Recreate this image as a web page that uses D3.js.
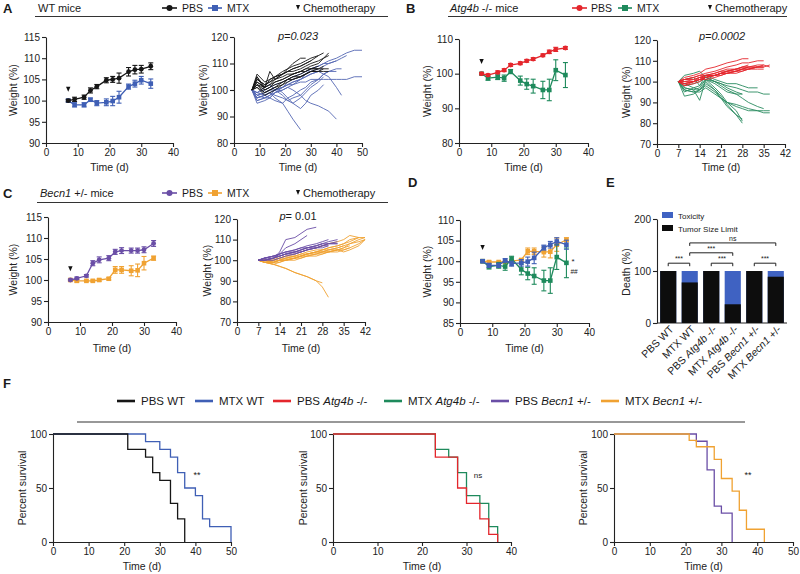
<!DOCTYPE html>
<meta charset="utf-8">
<style>
body { margin: 0; background: #fff; }
svg { font-family: "Liberation Sans", Arial, Helvetica, sans-serif; }
.axis text { font-size: 10px; fill: #222; font-family: "Liberation Sans", Arial, sans-serif; }
.axis path, .axis line { stroke: #222; stroke-width: 1.1px; }
.lbl { font-size: 10.5px; fill: #222; }
</style>
<svg width="800" height="574"></svg>
<script src="https://d3js.org/d3.v7.min.js"></script>
<script>

var svg = d3.select("svg");

var cBlack = "#161616", cBlue = "#3f5fb5", cRed = "#e4262c", cGreen = "#1e8a5c",
    cPurple = "#6a4ea6", cOrange = "#f0a232";

// ---- group means (weight %) ----
var days = [7, 9, 12, 14, 16, 19, 21, 23, 26, 28, 30, 33];
var wtPbs    = [100, 100.3, 100.8, 102.4, 103.3, 104.8, 105.0, 105.3, 106.8, 107.3, 107.4, 108.1];
var wtPbsErr = [0.3, 0.5, 0.5, 0.6, 0.5, 0.6, 0.7, 1.2, 1.0, 1.0, 0.9, 0.8];
var wtMtx    = [100, 99.0, 99.0, 100.2, 99.4, 99.6, 99.9, 100.8, 103.3, 104.0, 104.8, 104.0];
var wtMtxErr = [0.3, 0.5, 0.5, 0.4, 0.6, 0.8, 1.1, 1.4, 0.6, 0.8, 0.9, 1.1];
var atgPbs    = [100, 99.6, 100.4, 101.0, 102.5, 103.0, 103.7, 104.2, 105.3, 106.3, 107.0, 107.4];
var atgPbsErr = [0.3, 0.3, 0.4, 0.4, 0.4, 0.4, 0.4, 0.4, 0.4, 0.5, 0.6, 0.4];
var atgMtx    = [100, 98.7, 99.0, 98.7, 100.6, 98.0, 97.0, 96.4, 95.3, 95.3, 101.0, 99.6];
var atgMtxErr = [0.3, 0.6, 0.7, 0.9, 0.6, 1.3, 1.5, 2.0, 2.5, 3.1, 3.0, 3.6];
var becPbs    = [100, 100.4, 101.0, 104.0, 104.8, 105.2, 106.7, 107.0, 107.0, 107.0, 107.2, 108.7];
var becPbsErr = [0.2, 0.3, 0.3, 0.6, 0.7, 0.6, 0.6, 0.7, 0.6, 0.6, 0.7, 0.7];
var becMtx    = [100, 99.8, 99.8, 99.8, 100.0, 100.3, 102.4, 102.4, 102.2, 102.3, 104.0, 105.2];
var becMtxErr = [0.2, 0.3, 0.2, 0.2, 0.3, 0.3, 0.8, 0.8, 1.2, 1.5, 1.6, 0.5];

var chemoDay = 7;

// ---- individual mice ----
var daysA = [7, 9, 12, 14, 16, 19, 21, 23, 26, 28, 30, 33, 35, 37, 40, 42, 44, 47, 50];
var wtPbsMice = [
  [100, 105, 101, 107, 104, 106, 108, 110, 112, 112],
  [100, 104, 102, 103, 105, 107, 108, 109, 110, 111, 112, 113, 114],
  [100, 103, 101, 102, 104, 106, 107, 108, 109, 110, 111, 113],
  [100, 102, 100, 101, 103, 104, 105, 106, 107, 108, 109, 110, 112, 114],
  [100, 103, 101, 102, 103, 104, 105, 106, 107, 107, 108, 108, 109],
  [100, 105, 100, 101, 102, 103, 104, 105, 106, 107, 108, 108],
  [100, 102, 99, 100, 101, 103, 104, 104, 105, 106, 107, 108, 108, 108],
  [100, 101, 98, 99, 100, 102, 103, 104, 105, 106, 107, 107, 108],
  [100, 104, 102, 103, 104, 105, 106, 106, 107, 108, 108, 109],
  [100, 102, 101, 104, 105, 106, 107, 108, 109, 110, 111],
  [100, 106, 103, 104, 105, 106, 107, 107, 108, 109, 110, 111, 112, 113],
  [100, 101, 99, 100, 101, 102, 104, 105, 105, 106, 107, 107, 107, 107]
];
var wtMtxMice = [
  [100, 97, 98, 99, 97, 95, 92, 89, 85],
  [100, 96, 97, 98, 99, 100, 101, 100, 98, 96, 95, 94, 93, 92, 89],
  [100, 99, 100, 101, 102, 103, 104, 105, 106, 107, 108, 109, 110, 111, 112, 113, 114, 115, 115],
  [100, 98, 99, 100, 100, 101, 102, 102, 103, 103, 104, 104, 104, 104, 104, 104, 104, 105, 105],
  [100, 97, 98, 97, 99, 100, 101, 102, 104, 105, 106, 107, 106, 105, 101, 98],
  [100, 95, 96, 97, 99, 101, 103, 104, 105, 106, 108, 109, 110, 110, 111, 112, 113],
  [100, 98, 97, 97, 96, 95, 97, 98, 100, 101, 103, 104, 106, 107, 107],
  [100, 99, 101, 102, 100, 98, 96, 95, 97, 99, 101, 103, 105],
  [100, 97, 98, 99, 98, 97, 96, 97, 98, 100, 102, 104, 106, 107, 108, 108],
  [100, 96, 97, 98, 100, 101, 102, 103, 104, 106, 107, 108],
  [100, 98, 99, 100, 101, 99, 97, 95, 93, 95, 98, 100, 102],
  [100, 99, 98, 99, 100, 101, 102, 103, 104, 105, 106, 107, 109, 110, 111]
];

var daysB = [7, 9, 12, 14, 16, 19, 21, 23, 26, 28, 30, 33, 35, 37];
var atgPbsMice = [
  [100, 102, 103, 104, 106, 107, 108, 109, 110, 111, 111],
  [100, 101, 102, 103, 104, 105, 106, 107, 108, 109, 109, 110, 110],
  [100, 99, 100, 101, 102, 103, 104, 104, 105, 106, 106, 107, 107, 108],
  [100, 100, 101, 102, 103, 103, 104, 105, 106, 106, 107, 107, 107],
  [100, 101, 101, 102, 102, 103, 104, 105, 105, 106, 107, 107, 108],
  [100, 98, 99, 100, 102, 103, 103, 104, 105, 106, 106, 107],
  [100, 99, 100, 101, 103, 104, 105, 105, 106, 107, 107, 108, 108, 107],
  [100, 100, 100, 101, 102, 103, 104, 104, 105, 105, 106, 107, 107],
  [100, 101, 102, 103, 103, 104, 105, 106, 106, 107, 107],
  [100, 99, 100, 101, 101, 102, 103, 104, 104, 105, 106, 106, 106],
  [100, 98, 100, 102, 103, 103, 104, 105, 106, 107, 108]
];
var atgMtxMice = [
  [100, 96, 95, 96, 100, 96, 93, 89, 84, 80],
  [100, 97, 96, 97, 101, 97, 94, 90, 86, 81],
  [100, 95, 97, 96, 99, 96, 92, 88, 84, 82],
  [100, 93, 94, 96, 98, 95, 92, 90, 88, 87, 86, 86, 86, 86],
  [100, 96, 95, 95, 97, 94, 92, 90, 89, 88, 87, 86, 85, 85],
  [100, 99, 97, 98, 101, 100, 99, 98, 97, 96, 95, 95, 94, 94],
  [100, 101, 102, 98, 103, 101, 100, 99, 99, 98, 97, 97],
  [100, 97, 96, 91, 101, 99, 97, 95, 94, 94],
  [100, 98, 99, 100, 102, 100, 98, 96, 94, 92, 90, 88, 87],
  [100, 103, 104, 105, 102, 100, 99, 97, 95, 94]
];

var daysC = [7, 9, 12, 14, 16, 19, 21, 23, 26, 28, 30, 33, 35, 37, 40, 42];
var becPbsMice = [
  [100, 100, 101, 104, 110, 111, 113, 115, 116],
  [100, 100, 101, 103, 106, 108, 110, 112],
  [100, 101, 102, 103, 104, 105, 106, 107, 108, 109, 110],
  [100, 101, 102, 103, 104, 105, 106, 106, 107, 108, 109, 110],
  [100, 100, 101, 102, 103, 104, 105, 106, 107, 108, 108, 109],
  [100, 101, 102, 102, 103, 104, 105, 106, 106, 107, 108, 108],
  [100, 100, 101, 102, 103, 104, 104, 105, 106, 107, 107],
  [100, 101, 102, 103, 104, 104, 105, 106, 107, 108],
  [100, 100, 100, 101, 102, 103, 104, 105, 106, 107, 108, 108],
  [100, 101, 101, 102, 103, 103, 104, 105, 106, 106, 107]
];
var becMtxMice = [
  [100, 99, 98, 97, 96, 94, 93, 92, 90, 89],
  [100, 99, 98, 97, 96, 94, 93, 92, 90, 87, 82],
  [100, 99, 99, 100, 100, 101, 102, 103, 104, 105, 106, 107, 108, 110, 111, 111],
  [100, 100, 100, 101, 101, 102, 103, 103, 104, 105, 105, 106, 107, 108, 109, 110],
  [100, 99, 99, 100, 101, 101, 102, 102, 103, 104, 104, 105, 105, 106, 108, 110],
  [100, 100, 99, 100, 100, 101, 101, 102, 103, 103, 104, 105, 106, 107],
  [100, 99, 100, 100, 101, 102, 102, 103, 104, 104, 105, 105, 106, 108, 110, 111],
  [100, 100, 99, 99, 100, 100, 101, 102, 102, 103, 104, 104, 105, 106],
  [100, 99, 98, 99, 100, 101, 102, 103, 104, 104, 105, 106, 107],
  [100, 100, 100, 101, 102, 102, 103, 104, 105, 105, 106, 107, 108, 109, 111],
  [100, 99, 99, 100, 100, 101, 102, 103, 103, 104, 104, 105, 104, 105, 107, 110],
  [100, 100, 101, 101, 102, 103, 104, 105, 106, 107, 108, 109, 110, 112, 111]
];

// ---- death cause (%) ----
var deathGroups = ["PBS WT", "MTX WT", "PBS Atg4b -/-", "MTX Atg4b -/-", "PBS Becn1 +/-", "MTX Becn1 +/-"];
var tumorLimit = [100, 78, 100, 36, 100, 89];
var toxicity   = [0, 22, 0, 64, 0, 11];

// ---- survival (time, percent) ----
var kmPbsWt  = [[0, 100], [21, 85.7], [26, 78.6], [28, 64.3], [30, 57.1], [33, 35.7], [35, 21.4], [37, 0]];
var kmMtxWt  = [[0, 100], [26, 92.9], [30, 85.7], [33, 78.6], [35, 64.3], [37, 50], [40, 42.9], [42, 21.4], [44, 14.3], [50, 14.3], [50, 0]];
var kmPbsAtg = [[0, 100], [23, 78.6], [28, 50], [30, 35.7], [33, 21.4], [35, 7.1], [37, 0]];
var kmMtxAtg = [[0, 100], [23, 85.7], [26, 78.6], [28, 64.3], [30, 42.9], [33, 35.7], [35, 14.3], [37, 0]];
var kmPbsBec = [[0, 100], [23, 93.3], [26, 66.7], [28, 33.3], [30, 26.7], [33, 0]];
var kmMtxBec = [[0, 100], [21, 94.1], [23, 88.2], [28, 76.5], [30, 58.8], [33, 47.1], [35, 29.4], [37, 11.8], [42, 0]];

// ---------- helpers ----------
function rich(sel, str) {
  str.split(/(Atg4b|Becn1)/).forEach(function(s) {
    if (!s) return;
    sel.append("tspan").text(s)
      .style("font-style", /^(Atg4b|Becn1)$/.test(s) ? "italic" : null);
  });
  return sel;
}

function text(x, y, str, size, opts) {
  opts = opts || {};
  var t = svg.append("text").attr("x", x).attr("y", y)
    .style("font-size", size + "px").style("fill", "#1a1a1a")
    .attr("text-anchor", opts.anchor || "start");
  if (opts.bold) t.style("font-weight", "bold");
  if (opts.italic) t.style("font-style", "italic");
  rich(t, str);
  return t;
}

function panel(o) {
  var x = d3.scaleLinear().domain(o.xd).range([o.l, o.r]);
  var y = d3.scaleLinear().domain(o.yd).range([o.b, o.t]);
  svg.append("g").attr("class", "axis").attr("transform", "translate(0," + o.b + ")")
    .call(d3.axisBottom(x).tickValues(o.xt).tickSize(4).tickSizeOuter(0).tickPadding(2));
  svg.append("g").attr("class", "axis").attr("transform", "translate(" + o.l + ",0)")
    .call(d3.axisLeft(y).tickValues(o.yt).tickSize(4).tickSizeOuter(0).tickPadding(2));
  svg.append("text").attr("class", "lbl").attr("text-anchor", "middle")
    .attr("x", (o.l + o.r) / 2).attr("y", o.xlY).text(o.xlab || "Time (d)");
  svg.append("text").attr("class", "lbl").attr("text-anchor", "middle")
    .attr("transform", "translate(" + o.ylX + "," + (o.t + o.b) / 2 + ") rotate(-90)")
    .text(o.ylab || "Weight (%)");
  return { x: x, y: y };
}

function meanSeries(p, vals, errs, color, shape) {
  var g = svg.append("g");
  g.append("path").datum(vals).attr("fill", "none").attr("stroke", color).attr("stroke-width", 1.3)
    .attr("d", d3.line().x(function(d, i) { return p.x(days[i]); }).y(function(d) { return p.y(d); }));
  var eb = g.selectAll(".eb").data(vals).enter().append("g").attr("stroke", color).attr("stroke-width", 1.1);
  eb.append("line")
    .attr("x1", function(d, i) { return p.x(days[i]); }).attr("x2", function(d, i) { return p.x(days[i]); })
    .attr("y1", function(d, i) { return p.y(d - errs[i]); }).attr("y2", function(d, i) { return p.y(d + errs[i]); });
  [-1, 1].forEach(function(s) {
    eb.append("line")
      .attr("x1", function(d, i) { return p.x(days[i]) - 2.5; }).attr("x2", function(d, i) { return p.x(days[i]) + 2.5; })
      .attr("y1", function(d, i) { return p.y(d + s * errs[i]); }).attr("y2", function(d, i) { return p.y(d + s * errs[i]); });
  });
  if (shape === "circle") {
    g.selectAll(".m").data(vals).enter().append("circle")
      .attr("cx", function(d, i) { return p.x(days[i]); }).attr("cy", function(d) { return p.y(d); })
      .attr("r", 2.4).attr("fill", color);
  } else {
    g.selectAll(".m").data(vals).enter().append("rect")
      .attr("x", function(d, i) { return p.x(days[i]) - 2.3; }).attr("y", function(d) { return p.y(d) - 2.3; })
      .attr("width", 4.6).attr("height", 4.6).attr("fill", color);
  }
}

function miceLines(p, t, mice, color) {
  svg.append("g").selectAll("path").data(mice).enter().append("path")
    .attr("fill", "none").attr("stroke", color).attr("stroke-width", 1).attr("stroke-opacity", 0.9)
    .attr("d", d3.line().x(function(d, i) { return p.x(t[i]); }).y(function(d) { return p.y(d); }));
}

function chemoArrow(p, v) {
  var x = p.x(chemoDay), y = p.y(v);
  svg.append("path").attr("d", "M" + (x - 2.2) + "," + (y - 5) + "L" + (x + 2.2) + "," + (y - 5) + "L" + x + "," + y + "Z")
    .attr("fill", "#111");
}

function legendMark(x0, x1, y, color, shape) {
  svg.append("line").attr("x1", x0).attr("x2", x1).attr("y1", y).attr("y2", y)
    .attr("stroke", color).attr("stroke-width", 1.6);
  var cx = (x0 + x1) / 2;
  if (shape === "circle") svg.append("circle").attr("cx", cx).attr("cy", y).attr("r", 3).attr("fill", color);
  else svg.append("rect").attr("x", cx - 3).attr("y", y - 3).attr("width", 6).attr("height", 6).attr("fill", color);
}

function header(letter, lx, by, title, tx, l0, l1, ly, pbsCol, mtxCol, pos) {
  text(lx, by + 1, letter, 13, { bold: true });
  text(tx, by, title, 11);
  svg.append("line").attr("x1", l0).attr("x2", l1).attr("y1", ly).attr("y2", ly)
    .attr("stroke", "#333").attr("stroke-width", 1.2);
  legendMark(pos[0], pos[1], by - 4, pbsCol, "circle");
  text(pos[2], by, "PBS", 10.5);
  legendMark(pos[3], pos[4], by - 4, mtxCol, "square");
  text(pos[5], by, "MTX", 10.5);
  var ax = pos[6];
  svg.append("path").attr("d", "M" + (ax - 2) + "," + (by - 7) + "L" + (ax + 2) + "," + (by - 7) + "L" + ax + "," + (by - 2) + "Z")
    .attr("fill", "#111");
  text(ax + 5, by, "Chemotherapy", 11);
}

// ---------- A ----------
header("A", 3, 12, "WT mice", 38, 35, 388, 16.5, cBlack, cBlue, [162, 177, 182, 208, 222, 227, 298]);
var pA = panel({ l: 46, r: 173, t: 37, b: 143, xd: [0, 40], yd: [90, 115],
  xt: [0, 10, 20, 30, 40], yt: [90, 95, 100, 105, 110, 115], xlY: 171, ylX: 17 });
meanSeries(pA, wtMtx, wtMtxErr, cBlue, "square");
meanSeries(pA, wtPbs, wtPbsErr, cBlack, "circle");
chemoArrow(pA, 102.1);

var pA2 = panel({ l: 234, r: 362, t: 37, b: 143, xd: [0, 50], yd: [80, 120],
  xt: [0, 10, 20, 30, 40, 50], yt: [80, 90, 100, 110, 120], xlY: 171, ylX: 207 });
miceLines(pA2, daysA, wtMtxMice, "#5568b4");
miceLines(pA2, daysA, wtPbsMice, cBlack);
text(298, 40, "p=0.023", 11, { anchor: "middle", italic: true });

// ---------- B ----------
header("B", 406, 12, "Atg4b -/- mice", 450, 448, 787, 16.5, cRed, cGreen, [572, 587, 591, 618, 632, 637, 710]);
var pB = panel({ l: 459, r: 588, t: 39, b: 143, xd: [0, 40], yd: [80, 110],
  xt: [0, 10, 20, 30, 40], yt: [80, 90, 100, 110], xlY: 171, ylX: 431 });
meanSeries(pB, atgMtx, atgMtxErr, cGreen, "square");
meanSeries(pB, atgPbs, atgPbsErr, cRed, "circle");
chemoArrow(pB, 102.8);

var pB2 = panel({ l: 657, r: 785, t: 40, b: 144, xd: [0, 42], yd: [70, 120],
  xt: [0, 7, 14, 21, 28, 35, 42], yt: [70, 80, 90, 100, 110, 120], xlY: 171, ylX: 630 });
miceLines(pB2, daysB, atgMtxMice, "#2a8c60");
miceLines(pB2, daysB, atgPbsMice, cRed);
text(722, 40, "p=0.0002", 11, { anchor: "middle", italic: true });

// ---------- C ----------
header("C", 3, 197, "Becn1 +/- mice", 40, 37, 388, 202.5, cPurple, cOrange, [162, 177, 182, 208, 222, 227, 298]);
var pC = panel({ l: 48, r: 176, t: 217, b: 322, xd: [0, 40], yd: [90, 115],
  xt: [0, 10, 20, 30, 40], yt: [90, 95, 100, 105, 110, 115], xlY: 352, ylX: 17 });
meanSeries(pC, becMtx, becMtxErr, cOrange, "square");
meanSeries(pC, becPbs, becPbsErr, cPurple, "circle");
chemoArrow(pC, 102.1);

var pC2 = panel({ l: 237, r: 365, t: 219, b: 322, xd: [0, 42], yd: [70, 120],
  xt: [0, 7, 14, 21, 28, 35, 42], yt: [70, 80, 90, 100, 110, 120], xlY: 352, ylX: 211 });
miceLines(pC2, daysC, becMtxMice, cOrange);
miceLines(pC2, daysC, becPbsMice, cPurple);
var pv = svg.append("text").attr("x", 298).attr("y", 220).attr("text-anchor", "middle")
  .style("font-size", "11px").style("fill", "#1a1a1a");
pv.append("tspan").style("font-style", "italic").text("p");
pv.append("tspan").text("= 0.01");

// ---------- D ----------
text(408, 187, "D", 13, { bold: true });
var pD = panel({ l: 460, r: 589, t: 220, b: 323, xd: [0, 40], yd: [85, 110],
  xt: [0, 10, 20, 30, 40], yt: [85, 90, 95, 100, 105, 110], xlY: 352, ylX: 431 });
meanSeries(pD, becMtx, becMtxErr, cOrange, "square");
meanSeries(pD, atgMtx, atgMtxErr, cGreen, "square");
meanSeries(pD, wtMtx, wtMtxErr, cBlue, "square");
chemoArrow(pD, 102.7);
text(573, 264, "*", 8, { anchor: "middle" });
text(574, 274, "##", 6.5, { anchor: "middle" });

// ---------- E ----------
text(606, 187, "E", 13, { bold: true });
var eX = d3.scaleBand().domain(deathGroups).range([658, 786]).paddingInner(0.25).paddingOuter(0.1);
var eY = d3.scaleLinear().domain([0, 200]).range([323, 219]);
svg.append("g").attr("class", "axis").attr("transform", "translate(657,0)")
  .call(d3.axisLeft(eY).tickValues([0, 100, 200]).tickSize(4).tickSizeOuter(0).tickPadding(2));
svg.append("line").attr("x1", 657).attr("x2", 787).attr("y1", 323).attr("y2", 323)
  .attr("stroke", "#222").attr("stroke-width", 1.1);
svg.append("text").attr("class", "lbl").attr("text-anchor", "middle")
  .attr("transform", "translate(630,272) rotate(-90)").text("Death (%)");
svg.append("g").selectAll("rect").data(deathGroups).enter().append("rect")
  .attr("x", function(d) { return eX(d); }).attr("width", eX.bandwidth())
  .attr("y", function(d, i) { return eY(tumorLimit[i] + toxicity[i]); })
  .attr("height", function(d, i) { return eY(0) - eY(tumorLimit[i] + toxicity[i]); })
  .attr("fill", "#3f62c2");
svg.append("g").selectAll("rect").data(deathGroups).enter().append("rect")
  .attr("x", function(d) { return eX(d); }).attr("width", eX.bandwidth())
  .attr("y", function(d, i) { return eY(tumorLimit[i]); })
  .attr("height", function(d, i) { return eY(0) - eY(tumorLimit[i]); })
  .attr("fill", "#0d0d0d");
deathGroups.forEach(function(g) {
  var cx = eX(g) + eX.bandwidth() / 2;
  var t = svg.append("text").attr("text-anchor", "end")
    .attr("transform", "translate(" + (cx + 6) + ",330) rotate(-45)")
    .style("font-size", "10.5px").style("fill", "#1a1a1a");
  rich(t, g);
});
svg.append("rect").attr("x", 662).attr("y", 212).attr("width", 11).attr("height", 6).attr("fill", "#3f62c2");
text(678, 218.5, "Toxicity", 8);
svg.append("rect").attr("x", 662).attr("y", 225).attr("width", 11).attr("height", 6).attr("fill", "#0d0d0d");
text(678, 231.5, "Tumor Size Limit", 8);

var brackets = [[0, 1, 115, "***"], [2, 3, 115, "***"], [4, 5, 115, "***"], [1, 3, 135, "***"], [1, 5, 154, "ns"]];
brackets.forEach(function(b) {
  var x0 = eX(deathGroups[b[0]]) + eX.bandwidth() / 2, x1 = eX(deathGroups[b[1]]) + eX.bandwidth() / 2;
  var y = eY(b[2]);
  svg.append("path").attr("d", "M" + x0 + "," + (y + 3) + "V" + y + "H" + x1 + "V" + (y + 3))
    .attr("fill", "none").attr("stroke", "#222").attr("stroke-width", 1);
  text((x0 + x1) / 2, y - 2, b[3], 7, { anchor: "middle" });
});

// ---------- F ----------
text(3, 388, "F", 13, { bold: true });
var legF = [["PBS WT", cBlack, 117], ["MTX WT", cBlue, 195], ["PBS Atg4b -/-", cRed, 273],
            ["MTX Atg4b -/-", cGreen, 384], ["PBS Becn1 +/-", cPurple, 491], ["MTX Becn1 +/-", cOrange, 601]];
legF.forEach(function(d) {
  svg.append("line").attr("x1", d[2]).attr("x2", d[2] + 18).attr("y1", 401).attr("y2", 401)
    .attr("stroke", d[1]).attr("stroke-width", 2.6);
  text(d[2] + 24, 405, d[0], 11.5);
});
svg.append("line").attr("x1", 77).attr("x2", 745).attr("y1", 422).attr("y2", 422)
  .attr("stroke", "#333").attr("stroke-width", 1.2);

function km(p, data, color) {
  svg.append("path").datum(data).attr("fill", "none").attr("stroke", color).attr("stroke-width", 1.3)
    .attr("d", d3.line().curve(d3.curveStepAfter).x(function(d) { return p.x(d[0]); }).y(function(d) { return p.y(d[1]); }));
}
var f1 = panel({ l: 53, r: 231, t: 434, b: 542, xd: [0, 50], yd: [0, 100],
  xt: [0, 10, 20, 30, 40, 50], yt: [0, 50, 100], xlY: 570, ylX: 26, ylab: "Percent survival" });
km(f1, kmMtxWt, cBlue);
km(f1, kmPbsWt, cBlack);
text(197, 478, "**", 9, { anchor: "middle" });

var f2 = panel({ l: 333, r: 511, t: 434, b: 542, xd: [0, 40], yd: [0, 100],
  xt: [0, 10, 20, 30, 40], yt: [0, 50, 100], xlY: 570, ylX: 307, ylab: "Percent survival" });
km(f2, kmMtxAtg, cGreen);
km(f2, kmPbsAtg, cRed);
text(478, 478, "ns", 8, { anchor: "middle" });

var f3 = panel({ l: 614, r: 793, t: 434, b: 542, xd: [0, 50], yd: [0, 100],
  xt: [0, 10, 20, 30, 40, 50], yt: [0, 50, 100], xlY: 570, ylX: 587, ylab: "Percent survival" });
km(f3, kmPbsBec, cPurple);
km(f3, kmMtxBec, cOrange);
text(748, 478, "**", 9, { anchor: "middle" });

</script>
